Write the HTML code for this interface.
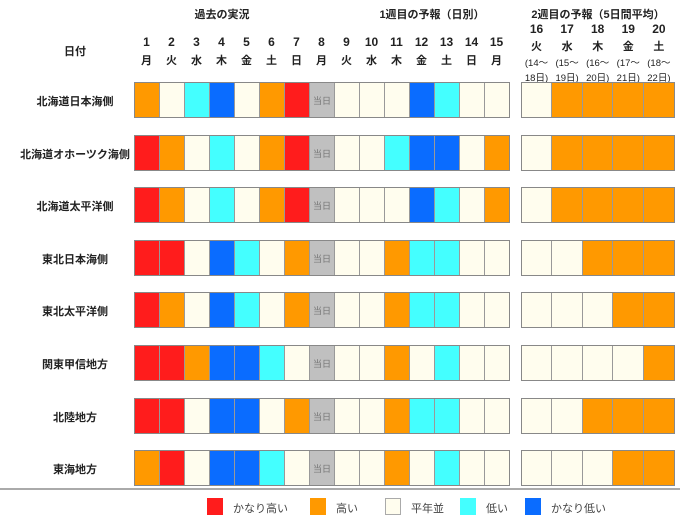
<!DOCTYPE html>
<html><head><meta charset="utf-8"><style>
body{margin:0;width:680px;height:525px;background:#fff;font-family:"Liberation Sans","Noto Sans CJK JP",sans-serif;position:relative;overflow:hidden;color:#222}
.a{position:absolute}
.t{position:absolute;font-size:11px;font-weight:bold;text-align:center;white-space:nowrap}
.blk{position:absolute;box-sizing:border-box;border:1px solid #888;display:flex;height:36px}
.c{box-sizing:border-box;border-right:1px solid #999;height:34px;flex:none}
.c:last-child{border-right:none}
.lg{position:absolute;font-size:11px;color:#444}
</style></head><body>
<div class="t" style="left:172px;top:6px;width:100px">過去の実況</div>
<div class="t" style="left:362px;top:6px;width:140px">1週目の予報（日別）</div>
<div class="t" style="left:523px;top:6px;width:150px">2週目の予報（5日間平均）</div>
<div class="t" style="left:40px;top:43px;width:70px">日付</div>
<div id="h"></div><div id="g"></div>
<div class="a" style="left:0;top:488px;width:680px;height:2px;background:#aaa"></div>
<div class="a" style="left:207px;top:498px;width:16px;height:17px;background:#ff1c1c"></div><div class="lg" style="left:233px;top:500px">かなり高い</div>
<div class="a" style="left:310px;top:498px;width:16px;height:17px;background:#ff9900"></div><div class="lg" style="left:336px;top:500px">高い</div>
<div class="a" style="left:385px;top:498px;width:16px;height:17px;background:#fffdee;box-sizing:border-box;border:1px solid #aaa"></div><div class="lg" style="left:411px;top:500px">平年並</div>
<div class="a" style="left:460px;top:498px;width:16px;height:17px;background:#44ffff"></div><div class="lg" style="left:486px;top:500px">低い</div>
<div class="a" style="left:525px;top:498px;width:16px;height:17px;background:#0a6cff"></div><div class="lg" style="left:551px;top:500px">かなり低い</div>
<script>
var col={R:"#ff1c1c",O:"#ff9900",W:"#fffdee",C:"#44ffff",B:"#0a6cff",G:"#c0c0c0"};
var wd="月火水木金土日月火水木金土日月".split("");
var h="";
for(var i=0;i<15;i++){var x=134+i*25;h+='<div class="t" style="left:'+x+'px;top:35px;width:25px;font-size:12px">'+(i+1)+'</div><div class="t" style="left:'+x+'px;top:52px;width:25px">'+wd[i]+'</div>';}
var w2="火水木金土".split("");
for(var i=0;i<5;i++){var x=521+i*30.6;h+='<div class="t" style="left:'+x+'px;top:22px;width:31px;font-size:12px">'+(16+i)+'</div><div class="t" style="left:'+x+'px;top:38px;width:31px">'+w2[i]+'</div><div class="t" style="left:'+(x-2)+'px;top:55px;width:35px;font-size:9.5px;font-weight:normal">('+(14+i)+'～</div><div class="t" style="left:'+(x-2)+'px;top:70px;width:35px;font-size:9.5px;font-weight:normal">'+(18+i)+'日)</div>';}
document.getElementById("h").innerHTML=h;
var rows=[["北海道日本海側","OWCBWORGWWWBCWW","WOOOO"],["北海道オホーツク海側","ROWCWORGWWCBBWO","WOOOO"],["北海道太平洋側","ROWCWORGWWWBCWO","WOOOO"],["東北日本海側","RRWBCWOGWWOCCWW","WWOOO"],["東北太平洋側","ROWBCWOGWWOCCWW","WWWOO"],["関東甲信地方","RROBBCWGWWOWCWW","WWWWO"],["北陸地方","RRWBBWOGWWOCCWW","WWOOO"],["東海地方","ORWBBCWGWWOWCWW","WWWOO"]];
var g="";
rows.forEach(function(r,k){var y=Math.round(82+k*52.6);
g+='<div class="t" style="left:0;top:'+(y+11)+'px;width:150px;font-size:11px">'+r[0]+'</div>';
g+='<div class="blk" style="left:134px;top:'+y+'px;width:376px">';
for(var i=0;i<15;i++){g+='<div class="c" style="width:'+(i==14?24:25)+'px;background:'+col[r[1][i]]+'">'+(r[1][i]=="G"?'<div style="font-size:9px;color:#777;text-align:center;margin-top:11px">当日</div>':'')+'</div>';}
g+='</div><div class="blk" style="left:521px;top:'+y+'px;width:154px">';
var ws=[30,31,30,31,30];
for(var i=0;i<5;i++){g+='<div class="c" style="width:'+ws[i]+'px;background:'+col[r[2][i]]+'"></div>';}
g+='</div>';});
document.getElementById("g").innerHTML=g;
</script>
</body></html>
